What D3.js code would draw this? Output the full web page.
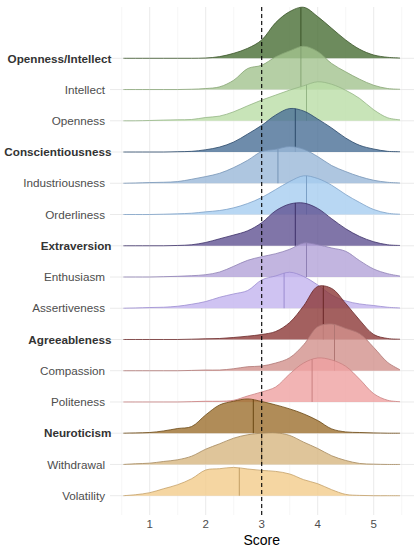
<!DOCTYPE html>
<html>
<head>
<meta charset="utf-8">
<script src="https://cdn.jsdelivr.net/npm/d3@7"></script>
<style>
  body { margin: 0; background: #fff; }
  text { font-family: "Liberation Sans", Arial, Helvetica, sans-serif; }
</style>
</head>
<body>
<script>
// trait labels, top to bottom
var traits = ["Openness/Intellect", "Intellect", "Openness", "Conscientiousness",
  "Industriousness", "Orderliness", "Extraversion", "Enthusiasm", "Assertiveness",
  "Agreeableness", "Compassion", "Politeness", "Neuroticism", "Withdrawal", "Volatility"];
var domains = ["Openness/Intellect", "Conscientiousness", "Extraversion", "Agreeableness", "Neuroticism"];

// score grid the densities were read at
var scores = [0.53, 0.75, 1, 1.25, 1.5, 1.75, 2, 2.25, 2.5, 2.75, 3, 3.25, 3.5, 3.75, 4, 4.25, 4.5, 4.75, 5, 5.25, 5.47];

// density heights (relative units) per trait
var opennessIntellect = [0, 0, 0, 0, 0, 0, 0.3, 1.7, 5, 10, 18.3, 35.7, 46.7, 51, 41.7, 30, 18.3, 9, 3.3, 1, 0.3];
var intellect         = [0, 0, 0, 0, 0, 0.3, 1, 2.7, 9.3, 21, 24.3, 32.7, 38.7, 43.3, 38, 26, 17.7, 10.3, 4.3, 1, 0.3];
var openness          = [0, 0, 0.3, 0.7, 1, 1.3, 3.3, 4.7, 9, 15, 20.7, 25.7, 30.7, 35, 39, 36.5, 30.5, 22.3, 11, 3, 1];
var conscientiousness = [0, 0, 0, 0, 0.3, 0.7, 2.3, 5, 10, 18, 26.7, 37, 43.5, 41, 33, 24, 14, 6.7, 3, 0.7, 0.3];
var industriousness   = [0, 0.3, 0.7, 1, 1.7, 4, 6.7, 10, 15.7, 23, 31.7, 34, 36.7, 34, 26.7, 17.7, 11.7, 6.7, 3, 1, 0.3];
var orderliness       = [0, 0, 0, 0.3, 0.7, 1.3, 2.7, 4, 6.7, 11, 17, 25, 33, 38.7, 36, 29.3, 20, 12, 5, 1.3, 0.3];
var extraversion      = [0, 0, 0, 0, 0.3, 1, 3.3, 7, 10.7, 15, 23, 35, 41.7, 42.7, 37.3, 27, 17, 9.3, 4, 1, 0.3];
var enthusiasm        = [0, 0, 0, 0.3, 0.7, 1.3, 2.3, 5, 10.7, 16.7, 20.3, 23.3, 27.7, 34, 32.3, 29, 25.7, 16.3, 8, 3.3, 1];
var assertiveness     = [0, 0.3, 0.7, 1, 2, 4, 6.7, 11, 14.3, 17.7, 28.3, 32.3, 36, 31.7, 23.3, 13.3, 7.3, 4.3, 2.7, 1, 0.3];
var agreeableness     = [0, 0, 0, 0, 0, 0.3, 0.7, 1, 2, 3.3, 5, 8, 17, 33.7, 53, 51, 36, 19.3, 5, 1, 0.3];
var compassion        = [0, 0, 0, 0, 0, 0.3, 0.7, 0.7, 2, 4, 4.7, 7.7, 13, 26, 44, 46.7, 42.3, 37, 23.3, 8.3, 1];
var politeness        = [0, 0, 0, 0, 0, 0.3, 0.7, 0.7, 1.7, 6, 10, 15, 28, 39, 44, 42, 35.7, 22.7, 8.3, 1.7, 0.3];
var neuroticism       = [0, 0.3, 0.7, 2.3, 4.7, 6.7, 18.3, 28.3, 32, 34.3, 31.7, 28.3, 24.3, 19.3, 12.7, 4.3, 1.3, 0.7, 0.3, 0, 0];
var withdrawal        = [0, 0.7, 1.3, 3, 4.7, 8.3, 15.3, 20.7, 26.3, 29.7, 31.3, 31.7, 29, 22.3, 16, 8.7, 4, 1, 0.3, 0, 0];
var volatility        = [0, 1, 3, 7, 11, 17, 25.7, 27, 28.3, 26.7, 25.3, 24.3, 21.7, 16, 12, 6, 1.3, 0.3, 0, 0, 0];

var densities = [opennessIntellect, intellect, openness, conscientiousness, industriousness,
  orderliness, extraversion, enthusiasm, assertiveness, agreeableness, compassion,
  politeness, neuroticism, withdrawal, volatility];

// median score per trait
var medians = [3.7, 3.7, 3.8, 3.6, 3.29, 3.8, 3.6, 3.8, 3.4, 4.1, 4.3, 3.9, 2.85, 3.0, 2.6];

var xTicks = [1, 2, 3, 4, 5];
var xMinor = [0.5, 1.5, 2.5, 3.5, 4.5, 5.5];
var midpoint = 3;

var fills = ["#496e35", "#a2c38e", "#badda6", "#4a6f96", "#9ab8d8", "#a6cdf0", "#605292",
  "#b3a2d8", "#c3b4ef", "#8c3837", "#d2918c", "#efa1a1", "#9c6f2e", "#d7b681", "#f2cc8b"];
var strokes = ["#3b5529", "#86a573", "#94b585", "#2c4a6b", "#7694b6", "#7ba0c6", "#3c3068",
  "#8e80b4", "#9a8bd0", "#692626", "#b07673", "#c98080", "#694612", "#a4885c", "#c49f66"];

var width = 420, height = 550;

var svg = d3.select("body").append("svg")
  .attr("width", width)
  .attr("height", height);

var x = d3.scaleLinear().domain([0.5, 5.5]).range([121.7, 401.7]);
var y = d3.scalePoint().domain(traits).range([58.3, 495.7]);
var h = d3.scaleLinear().domain([0, 50]).range([0, 50]);

var panelTop = 7, panelBottom = 515, panelLeft = 110, panelRight = 414;

// grid
var grid = svg.append("g");
grid.selectAll("line.minor").data(xMinor).enter().append("line")
  .attr("x1", d => x(d)).attr("x2", d => x(d))
  .attr("y1", panelTop).attr("y2", panelBottom)
  .attr("stroke", "#efefef").attr("stroke-width", 0.5);
grid.selectAll("line.major").data(xTicks).enter().append("line")
  .attr("x1", d => x(d)).attr("x2", d => x(d))
  .attr("y1", panelTop).attr("y2", panelBottom)
  .attr("stroke", "#e8e8e8").attr("stroke-width", 0.9);
grid.selectAll("line.hz").data(traits).enter().append("line")
  .attr("x1", panelLeft).attr("x2", panelRight)
  .attr("y1", d => y(d)).attr("y2", d => y(d))
  .attr("stroke", "#e8e8e8").attr("stroke-width", 0.9);

// ridges, top row first so lower rows overlay
var ridges = svg.append("g");
traits.forEach(function(t, i) {
  var pts = scores.map((s, j) => [s, densities[i][j]]);
  var base = y(t);
  var curve = d3.curveCatmullRom.alpha(0.5);

  var area = d3.area()
    .x(d => x(d[0]))
    .y0(base)
    .y1(d => Math.min(base, base - h(d[1])))
    .curve(curve);
  var line = d3.line()
    .x(d => x(d[0]))
    .y(d => Math.min(base, base - h(d[1])))
    .curve(curve);

  var g = ridges.append("g");
  g.append("path").attr("d", area(pts))
    .attr("fill", fills[i]).attr("fill-opacity", 0.8);

  var top = g.append("path").attr("d", line(pts))
    .attr("fill", "none").attr("stroke", strokes[i]).attr("stroke-width", 0.8);

  // find curve height at the median
  var node = top.node(), len = node.getTotalLength(), mx = x(medians[i]), my = base;
  for (var l = 0; l <= len; l += 0.25) {
    var p = node.getPointAtLength(l);
    if (p.x >= mx) { my = p.y; break; }
  }
  g.append("line")
    .attr("x1", mx).attr("x2", mx)
    .attr("y1", base).attr("y2", my)
    .attr("stroke", strokes[i]).attr("stroke-width", 1);
});

// reference line at the scale midpoint
svg.append("line")
  .attr("x1", x(midpoint)).attr("x2", x(midpoint))
  .attr("y1", panelTop).attr("y2", panelBottom)
  .attr("stroke", "#000").attr("stroke-width", 1.1)
  .attr("stroke-dasharray", "4,3");

// trait labels
svg.append("g").selectAll("text").data(traits).enter().append("text")
  .attr("x", d => domains.indexOf(d) >= 0 ? 111.5 : 105)
  .attr("y", d => y(d))
  .attr("dy", "0.36em")
  .attr("text-anchor", "end")
  .attr("font-size", "11.7px")
  .attr("font-weight", d => domains.indexOf(d) >= 0 ? "bold" : "normal")
  .attr("fill", d => domains.indexOf(d) >= 0 ? "#333" : "#4d4d4d")
  .text(d => d);

// x axis
svg.append("g").selectAll("text").data(xTicks).enter().append("text")
  .attr("x", d => x(d))
  .attr("y", 527.5)
  .attr("text-anchor", "middle")
  .attr("font-size", "11.5px")
  .attr("fill", "#4d4d4d")
  .text(d => d);

svg.append("text")
  .attr("x", x(midpoint))
  .attr("y", 544.5)
  .attr("text-anchor", "middle")
  .attr("font-size", "14px")
  .attr("fill", "#000")
  .text("Score");
</script>
</body>
</html>
